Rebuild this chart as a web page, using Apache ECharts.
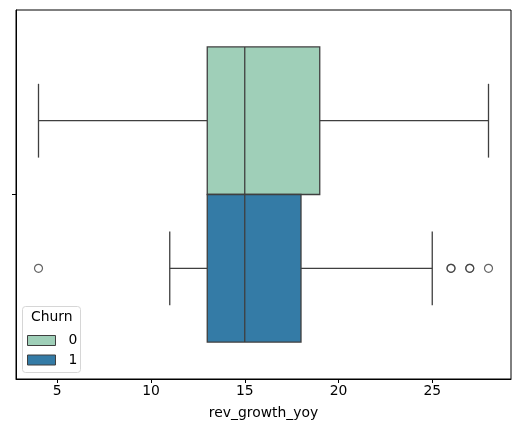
<!DOCTYPE html>
<html>
<head>
<meta charset="utf-8">
<script src="https://cdn.jsdelivr.net/npm/echarts@6/dist/echarts.min.js"></script>
<style>
html, body { margin: 0; padding: 0; background: #fff; }
#chart { width: 520px; height: 433px; }
</style>
</head>
<body>
<div id="chart"></div>
<script>
// 数据
var hueNames = ['0', '1'];
var hueColors = ['#9fcfb8', '#347ba6'];
// [下须, Q1, 中位数, Q3, 上须]
var churn0Box = [4, 13, 15, 19, 28];
var churn1Box = [11, 13, 15, 18, 25];
var churn0Outliers = [];
var churn1Outliers = [4, 26, 26, 27, 27, 28];
var xTicks = [5, 10, 15, 20, 25];
var hueOffsets = [-0.2, 0.2];

var lineColor = '#3f3f3f';
var fontSize = 13.9;
var myChart;

// 箱体绘制
function renderBox(params, api) {
	var off = hueOffsets[params.seriesIndex];
	var lo = api.value(0), q1 = api.value(1), med = api.value(2), q3 = api.value(3), hi = api.value(4);
	var a = api.coord([q1, off - 0.2]);
	var b = api.coord([q3, off + 0.2]);
	var lineStyle = { stroke: lineColor, lineWidth: 1.3, fill: null };
	function seg(x1, y1, x2, y2) {
		var p1 = api.coord([x1, y1]);
		var p2 = api.coord([x2, y2]);
		return { type: 'line', shape: { x1: p1[0], y1: p1[1], x2: p2[0], y2: p2[1] }, style: lineStyle };
	}
	return {
		type: 'group',
		children: [
			seg(lo, off, q1, off),
			seg(q3, off, hi, off),
			seg(lo, off - 0.1, lo, off + 0.1),
			seg(hi, off - 0.1, hi, off + 0.1),
			{
				type: 'rect',
				shape: { x: a[0], y: Math.min(a[1], b[1]), width: b[0] - a[0], height: Math.abs(b[1] - a[1]) },
				style: { fill: hueColors[params.seriesIndex], stroke: lineColor, lineWidth: 1.3 }
			},
			seg(med, off - 0.2, med, off + 0.2)
		]
	};
}

function outlierData(lst, off) {
	var d = [];
	for (var i = 0; i < lst.length; i++) {
		d.push([lst[i], off]);
	}
	return d;
}

function chartInit() {
	myChart = echarts.init(document.getElementById('chart'));
	var option = {
		animation: false,
		textStyle: { fontFamily: 'DejaVu Sans' },
		grid: {
			left: 16, right: 9, top: 10, bottom: 54,
			show: true, borderColor: '#000', borderWidth: 1
		},
		legend: {
			z: 10,
			left: 27, top: 333.5,
			padding: 0,
			orient: 'vertical',
			itemWidth: 28, itemHeight: 10, itemGap: 5.5,
			icon: 'rect',
			data: [
				{ name: hueNames[0], itemStyle: { color: hueColors[0], borderColor: lineColor, borderWidth: 1 } },
				{ name: hueNames[1], itemStyle: { color: hueColors[1], borderColor: lineColor, borderWidth: 1 } }
			],
			textStyle: { fontSize: fontSize, color: '#000', padding: [0, 0, 0, 8] },
			selectedMode: false
		},
		graphic: [
			{
				type: 'rect', z: 3,
				shape: { x: 22.5, y: 306.5, width: 58, height: 66, r: 3 },
				style: { fill: 'rgba(255,255,255,0.8)', stroke: '#d6d6d6', lineWidth: 1 }
			},
			{
				type: 'text', z: 11, left: 31, top: 310,
				style: { text: 'Churn', fontSize: fontSize, fill: '#000', fontFamily: 'DejaVu Sans' }
			}
		],
		xAxis: {
			type: 'value',
			min: 2.8, max: 29.2,
			name: 'rev_growth_yoy',
			nameLocation: 'middle',
			nameGap: 27,
			nameTextStyle: { fontSize: fontSize, color: '#000' },
			axisLine: { show: true, onZero: false, lineStyle: { color: '#000' } },
			axisTick: { show: true, length: 4, lineStyle: { color: '#000' }, customValues: xTicks },
			axisLabel: { fontSize: fontSize, color: '#000', margin: 5, customValues: xTicks },
			splitLine: { show: false }
		},
		yAxis: [
			{
				type: 'category',
				data: [''],
				axisLine: { show: true, lineStyle: { color: '#000' } },
				axisTick: { show: true, alignWithLabel: true, length: 4, lineStyle: { color: '#000' } },
				axisLabel: { show: false },
				splitLine: { show: false }
			},
			{
				type: 'value',
				min: -0.5, max: 0.5,
				inverse: true,
				show: false,
				axisLine: { show: false, onZero: false },
				splitLine: { show: false }
			}
		],
		series: [
			{
				name: hueNames[0], type: 'custom', yAxisIndex: 1,
				itemStyle: { color: hueColors[0] },
				renderItem: renderBox,
				data: [churn0Box], z: 2
			},
			{
				name: hueNames[1], type: 'custom', yAxisIndex: 1,
				itemStyle: { color: hueColors[1] },
				renderItem: renderBox,
				data: [churn1Box], z: 2
			},
			{
				type: 'scatter', yAxisIndex: 1,
				symbol: 'circle', symbolSize: 8,
				itemStyle: { color: 'rgba(0,0,0,0)', borderColor: lineColor, borderWidth: 1.2 },
				data: outlierData(churn0Outliers, hueOffsets[0]), z: 3
			},
			{
				type: 'scatter', yAxisIndex: 1,
				symbol: 'circle', symbolSize: 8,
				itemStyle: { color: 'rgba(0,0,0,0)', borderColor: lineColor, borderWidth: 1.2 },
				data: outlierData(churn1Outliers, hueOffsets[1]), z: 3
			}
		]
	};
	myChart.setOption(option);
}

chartInit();
</script>
</body>
</html>
